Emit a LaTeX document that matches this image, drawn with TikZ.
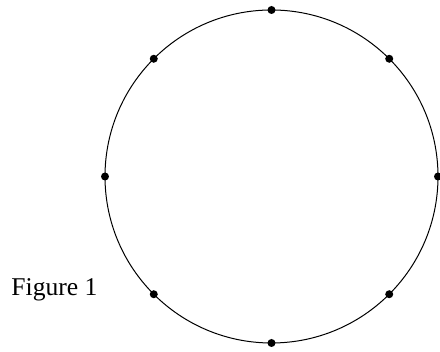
\documentclass[tikz,border=0pt]{standalone}
\usepackage{fontspec}
\setmainfont{Liberation Serif}
\usetikzlibrary{calc}

\begin{document}
\begin{tikzpicture}[x=0.5pt, y=0.5pt,
            ring/.style={draw, line width=0.5pt},
            dot/.style={circle, fill=black, inner sep=0pt, minimum size=4pt},
            caption/.style={inner sep=0pt, anchor=base west, font=\fontsize{12.8}{15}\selectfont}
        ]
            \useasboundingbox (0,0) rectangle (440,352);
            \coordinate (centre) at (271.5,175.5);
            \draw[ring] (centre) circle[radius=166.5];
            \foreach \a in {0,45,...,315}
                \node[dot] (p\a) at ($(centre)+(\a:166.5)$) {};
            \node[caption] (fig) at (11,56.3) {Figure 1};
        \end{tikzpicture}
\end{document}
